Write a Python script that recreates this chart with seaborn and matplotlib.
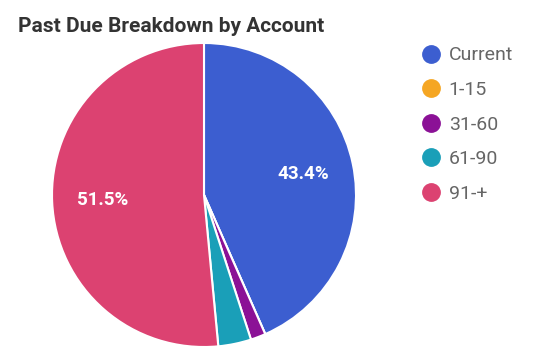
import matplotlib
matplotlib.use("Agg")
import matplotlib.pyplot as plt
import seaborn as sns
from matplotlib.lines import Line2D

categories = ["Current", "1-15", "31-60", "61-90", "91-+"]
values = [43.4, 0.0, 1.6, 3.5, 51.5]
colors = ["#3c5ed0", "#f5a623", "#8b1196", "#1a9fb8", "#dc4271"]

sns.set_theme(style="white")
plt.rcParams['font.family'] = ['Roboto', 'DejaVu Sans']

fig = plt.figure(figsize=(5.4, 3.5), dpi=100)
ax = fig.add_axes([52/540, 3/350, 304/540, 304/350])

def fmt(p):
    return f"{p:.1f}%" if p >= 5 else ""

wedges, texts, autotexts = ax.pie(
    values, colors=colors, startangle=90, counterclock=False,
    autopct=fmt, pctdistance=0.67,
    wedgeprops=dict(edgecolor="white", linewidth=1.5),
    textprops=dict(color="white", fontsize=13.5, fontweight="bold"))
ax.set_xlim(-1.0, 1.0)
ax.set_ylim(-1.0, 1.0)
ax.set_aspect("equal")

fig.text(18/540, 1 - 27/350, "Past Due Breakdown by Account", fontsize=15,
         fontweight="bold", color="#333333", va="center", ha="left")

handles = [Line2D([0], [0], marker="o", linestyle="", markersize=12.5,
                  markerfacecolor=c, markeredgecolor=c) for c in colors]
fig.legend(handles, categories, loc="upper left",
           bbox_to_anchor=(402/540, 1 - 29/350), frameon=False,
           fontsize=14, labelcolor="#666666", labelspacing=0.85,
           handletextpad=0.3, handlelength=1.2)

fig.savefig("out.png", dpi=100)
